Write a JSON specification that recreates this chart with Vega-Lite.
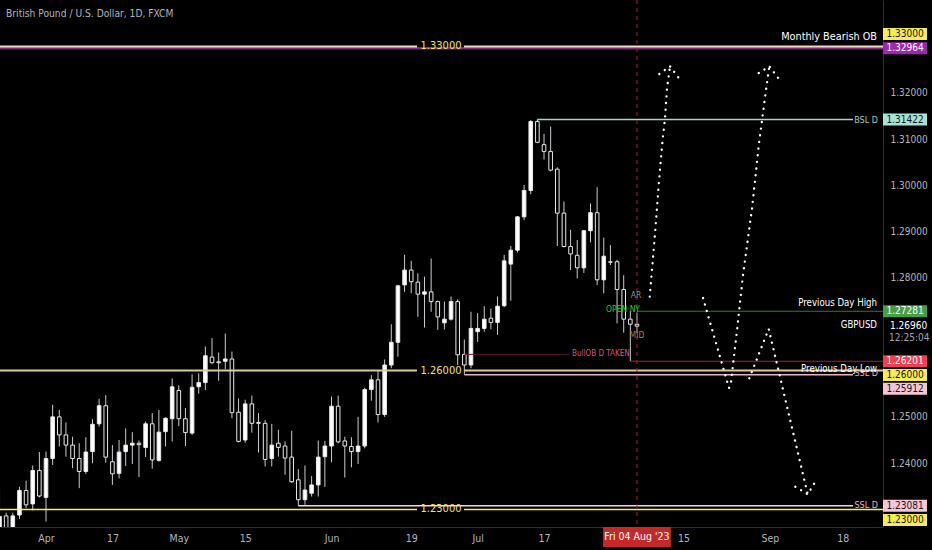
{
  "$schema": "https://vega.github.io/schema/vega-lite/v6.json",
  "width": 883,
  "height": 527,
  "autosize": {"type": "none"},
  "padding": {"left": 0, "top": 0, "right": 49, "bottom": 23},
  "background": "#000000",
  "config": {
    "view": {"stroke": null},
    "font": "'Liberation Sans Narrow', 'DejaVu Sans Condensed', Roboto, sans-serif",
    "axis": {"titleColor": "transparent"}
  },
  "datasets": {
    "candles": [
      {"d":"2023-03-23","t":-7,"o":1.2255,"h":1.2344,"l":1.2245,"c":1.2285},
      {"d":"2023-03-24","t":-6,"o":1.2286,"h":1.2293,"l":1.2240,"c":1.2255},
      {"d":"2023-03-27","t":-5,"o":1.2258,"h":1.2293,"l":1.2250,"c":1.2286},
      {"d":"2023-03-28","t":-4,"o":1.2288,"h":1.2349,"l":1.2279,"c":1.2341},
      {"d":"2023-03-29","t":-3,"o":1.2341,"h":1.2362,"l":1.2303,"c":1.2310},
      {"d":"2023-03-30","t":-2,"o":1.2312,"h":1.2395,"l":1.2298,"c":1.2384},
      {"d":"2023-03-31","t":-1,"o":1.2384,"h":1.2424,"l":1.2326,"c":1.2329},
      {"d":"2023-04-03","t":0,"o":1.2326,"h":1.2425,"l":1.2274,"c":1.2410},
      {"d":"2023-04-04","t":1,"o":1.2410,"h":1.2526,"l":1.2396,"c":1.2500},
      {"d":"2023-04-05","t":2,"o":1.2500,"h":1.2515,"l":1.2436,"c":1.2461},
      {"d":"2023-04-06","t":3,"o":1.2461,"h":1.2488,"l":1.2414,"c":1.2439},
      {"d":"2023-04-07","t":4,"o":1.2439,"h":1.2457,"l":1.2389,"c":1.2410},
      {"d":"2023-04-10","t":5,"o":1.2410,"h":1.2443,"l":1.2346,"c":1.2382},
      {"d":"2023-04-11","t":6,"o":1.2382,"h":1.2456,"l":1.2377,"c":1.2424},
      {"d":"2023-04-12","t":7,"o":1.2425,"h":1.2495,"l":1.2400,"c":1.2484},
      {"d":"2023-04-13","t":8,"o":1.2485,"h":1.2539,"l":1.2479,"c":1.2524},
      {"d":"2023-04-14","t":9,"o":1.2524,"h":1.2547,"l":1.2401,"c":1.2413},
      {"d":"2023-04-17","t":10,"o":1.2403,"h":1.2439,"l":1.2353,"c":1.2377},
      {"d":"2023-04-18","t":11,"o":1.2378,"h":1.2450,"l":1.2367,"c":1.2424},
      {"d":"2023-04-19","t":12,"o":1.2425,"h":1.2475,"l":1.2394,"c":1.2439},
      {"d":"2023-04-20","t":13,"o":1.2439,"h":1.2467,"l":1.2398,"c":1.2443},
      {"d":"2023-04-21","t":14,"o":1.2443,"h":1.2449,"l":1.2370,"c":1.2440},
      {"d":"2023-04-24","t":15,"o":1.2434,"h":1.2490,"l":1.2413,"c":1.2485},
      {"d":"2023-04-25","t":16,"o":1.2485,"h":1.2508,"l":1.2388,"c":1.2407},
      {"d":"2023-04-26","t":17,"o":1.2406,"h":1.2515,"l":1.2403,"c":1.2467},
      {"d":"2023-04-27","t":18,"o":1.2468,"h":1.2499,"l":1.2436,"c":1.2497},
      {"d":"2023-04-28","t":19,"o":1.2496,"h":1.2583,"l":1.2447,"c":1.2565},
      {"d":"2023-05-01","t":20,"o":1.2557,"h":1.2568,"l":1.2480,"c":1.2496},
      {"d":"2023-05-02","t":21,"o":1.2496,"h":1.2519,"l":1.2437,"c":1.2466},
      {"d":"2023-05-03","t":22,"o":1.2465,"h":1.2592,"l":1.2461,"c":1.2564},
      {"d":"2023-05-04","t":23,"o":1.2565,"h":1.2594,"l":1.2550,"c":1.2574},
      {"d":"2023-05-05","t":24,"o":1.2574,"h":1.2652,"l":1.2558,"c":1.2632},
      {"d":"2023-05-08","t":25,"o":1.2629,"h":1.2670,"l":1.2614,"c":1.2617},
      {"d":"2023-05-09","t":26,"o":1.2619,"h":1.2639,"l":1.2578,"c":1.2617},
      {"d":"2023-05-10","t":27,"o":1.2620,"h":1.2680,"l":1.2603,"c":1.2625},
      {"d":"2023-05-11","t":28,"o":1.2625,"h":1.2641,"l":1.2497,"c":1.2509},
      {"d":"2023-05-12","t":29,"o":1.2510,"h":1.2540,"l":1.2445,"c":1.2447},
      {"d":"2023-05-15","t":30,"o":1.2450,"h":1.2537,"l":1.2444,"c":1.2528},
      {"d":"2023-05-16","t":31,"o":1.2528,"h":1.2546,"l":1.2466,"c":1.2486},
      {"d":"2023-05-17","t":32,"o":1.2488,"h":1.2508,"l":1.2423,"c":1.2486},
      {"d":"2023-05-18","t":33,"o":1.2486,"h":1.2493,"l":1.2393,"c":1.2408},
      {"d":"2023-05-19","t":34,"o":1.2410,"h":1.2485,"l":1.2393,"c":1.2439},
      {"d":"2023-05-22","t":35,"o":1.2443,"h":1.2472,"l":1.2414,"c":1.2434},
      {"d":"2023-05-23","t":36,"o":1.2437,"h":1.2447,"l":1.2375,"c":1.2411},
      {"d":"2023-05-24","t":37,"o":1.2413,"h":1.2470,"l":1.2357,"c":1.2360},
      {"d":"2023-05-25","t":38,"o":1.2364,"h":1.2387,"l":1.23081,"c":1.2321},
      {"d":"2023-05-26","t":39,"o":1.2321,"h":1.2395,"l":1.2310,"c":1.2342},
      {"d":"2023-05-29","t":40,"o":1.2335,"h":1.2372,"l":1.2328,"c":1.2353},
      {"d":"2023-05-30","t":41,"o":1.2353,"h":1.2449,"l":1.2328,"c":1.2413},
      {"d":"2023-05-31","t":42,"o":1.2414,"h":1.2448,"l":1.2349,"c":1.2437},
      {"d":"2023-06-01","t":43,"o":1.2437,"h":1.2544,"l":1.2402,"c":1.2523},
      {"d":"2023-06-02","t":44,"o":1.2523,"h":1.2546,"l":1.2443,"c":1.2446},
      {"d":"2023-06-05","t":45,"o":1.2448,"h":1.2457,"l":1.2369,"c":1.2437},
      {"d":"2023-06-06","t":46,"o":1.2436,"h":1.2456,"l":1.2391,"c":1.2425},
      {"d":"2023-06-07","t":47,"o":1.2425,"h":1.2500,"l":1.2398,"c":1.2437},
      {"d":"2023-06-08","t":48,"o":1.2437,"h":1.2563,"l":1.2432,"c":1.2559},
      {"d":"2023-06-09","t":49,"o":1.2559,"h":1.2590,"l":1.2535,"c":1.2580},
      {"d":"2023-06-12","t":50,"o":1.2580,"h":1.2601,"l":1.2488,"c":1.2505},
      {"d":"2023-06-13","t":51,"o":1.2505,"h":1.2624,"l":1.2500,"c":1.2612},
      {"d":"2023-06-14","t":52,"o":1.2612,"h":1.2700,"l":1.2605,"c":1.2661},
      {"d":"2023-06-15","t":53,"o":1.2661,"h":1.2785,"l":1.2630,"c":1.2783},
      {"d":"2023-06-16","t":54,"o":1.2785,"h":1.2850,"l":1.2770,"c":1.2817},
      {"d":"2023-06-19","t":55,"o":1.2817,"h":1.2837,"l":1.2767,"c":1.2792},
      {"d":"2023-06-20","t":56,"o":1.2791,"h":1.2810,"l":1.2716,"c":1.2765},
      {"d":"2023-06-21","t":57,"o":1.2765,"h":1.2803,"l":1.2693,"c":1.2770},
      {"d":"2023-06-22","t":58,"o":1.2770,"h":1.2842,"l":1.2727,"c":1.2749},
      {"d":"2023-06-23","t":59,"o":1.2749,"h":1.2751,"l":1.2688,"c":1.2716},
      {"d":"2023-06-26","t":60,"o":1.2703,"h":1.2749,"l":1.2689,"c":1.2711},
      {"d":"2023-06-27","t":61,"o":1.2711,"h":1.2760,"l":1.2708,"c":1.2749},
      {"d":"2023-06-28","t":62,"o":1.2749,"h":1.2754,"l":1.2612,"c":1.2634},
      {"d":"2023-06-29","t":63,"o":1.2635,"h":1.2667,"l":1.25912,"c":1.2612},
      {"d":"2023-06-30","t":64,"o":1.2612,"h":1.2727,"l":1.2605,"c":1.2691},
      {"d":"2023-07-03","t":65,"o":1.2684,"h":1.2724,"l":1.2662,"c":1.2691},
      {"d":"2023-07-04","t":66,"o":1.2691,"h":1.2739,"l":1.2684,"c":1.2711},
      {"d":"2023-07-05","t":67,"o":1.2713,"h":1.2734,"l":1.2689,"c":1.2704},
      {"d":"2023-07-06","t":68,"o":1.2704,"h":1.2760,"l":1.2677,"c":1.2739},
      {"d":"2023-07-07","t":69,"o":1.2740,"h":1.2850,"l":1.2737,"c":1.2837},
      {"d":"2023-07-10","t":70,"o":1.2830,"h":1.2869,"l":1.2751,"c":1.2860},
      {"d":"2023-07-11","t":71,"o":1.2860,"h":1.2934,"l":1.2855,"c":1.2932},
      {"d":"2023-07-12","t":72,"o":1.2932,"h":1.3001,"l":1.2925,"c":1.2989},
      {"d":"2023-07-13","t":73,"o":1.2989,"h":1.3141,"l":1.2981,"c":1.3138},
      {"d":"2023-07-14","t":74,"o":1.3138,"h":1.31422,"l":1.3091,"c":1.3093},
      {"d":"2023-07-17","t":75,"o":1.3088,"h":1.3111,"l":1.3056,"c":1.3073},
      {"d":"2023-07-18","t":76,"o":1.3073,"h":1.3127,"l":1.3030,"c":1.3033},
      {"d":"2023-07-19","t":77,"o":1.3035,"h":1.3039,"l":1.2869,"c":1.2940},
      {"d":"2023-07-20","t":78,"o":1.2940,"h":1.2965,"l":1.2866,"c":1.2868},
      {"d":"2023-07-21","t":79,"o":1.2868,"h":1.2904,"l":1.2817,"c":1.2852},
      {"d":"2023-07-24","t":80,"o":1.2849,"h":1.2882,"l":1.2799,"c":1.2822},
      {"d":"2023-07-25","t":81,"o":1.2822,"h":1.2904,"l":1.2811,"c":1.2902},
      {"d":"2023-07-26","t":82,"o":1.2902,"h":1.2961,"l":1.2877,"c":1.2941},
      {"d":"2023-07-27","t":83,"o":1.2941,"h":1.2996,"l":1.2785,"c":1.2796},
      {"d":"2023-07-28","t":84,"o":1.2796,"h":1.2887,"l":1.2767,"c":1.2847},
      {"d":"2023-07-31","t":85,"o":1.2835,"h":1.2871,"l":1.2828,"c":1.2834},
      {"d":"2023-08-01","t":86,"o":1.2835,"h":1.2839,"l":1.2702,"c":1.2775},
      {"d":"2023-08-02","t":87,"o":1.2775,"h":1.2806,"l":1.2682,"c":1.2711},
      {"d":"2023-08-03","t":88,"o":1.2711,"h":1.27281,"l":1.26201,"c":1.2700},
      {"d":"2023-08-04","t":89,"o":1.2700,"h":1.2725,"l":1.2681,"c":1.2696}
    ],
    "levels": [
      {"kind":"mobp","p":1.32964,"t0":-7,"t1":126.05},
      {"kind":"mobc","p":1.33,"t0":-7,"t1":55.87},
      {"kind":"mobc","p":1.33,"t0":62.95,"t1":126.05},
      {"kind":"bsl","p":1.31422,"t0":74,"t1":121.54},
      {"kind":"pdh","p":1.27281,"t0":89,"t1":126.05},
      {"kind":"bullob","p":1.2635,"t0":63,"t1":78.8},
      {"kind":"pdl","p":1.26201,"t0":88,"t1":126.05},
      {"kind":"ssl1","p":1.25912,"t0":63,"t1":121.54},
      {"kind":"r126","p":1.26,"t0":-7,"t1":55.87},
      {"kind":"r126","p":1.26,"t0":62.95,"t1":126.05},
      {"kind":"ssl2","p":1.23081,"t0":38,"t1":121.54},
      {"kind":"r123","p":1.23,"t0":-7,"t1":55.87},
      {"kind":"r123","p":1.23,"t0":62.95,"t1":126.05}
    ],
    "proj": [
      {"path":"p1","k":0,"t":90.92,"p":1.27596},
      {"path":"p1","k":1,"t":91.76,"p":1.29036},
      {"path":"p1","k":2,"t":92.27,"p":1.30008},
      {"path":"p1","k":3,"t":92.88,"p":1.31017},
      {"path":"p1","k":4,"t":93.22,"p":1.31449},
      {"path":"p1","k":5,"t":93.52,"p":1.32097},
      {"path":"p1","k":6,"t":93.98,"p":1.32572},
      {"path":"p1h","k":0,"t":92.36,"p":1.32406},
      {"path":"p1h","k":1,"t":93.98,"p":1.32572},
      {"path":"p1h","k":2,"t":95.38,"p":1.32304},
      {"path":"p2","k":0,"t":98.95,"p":1.27567},
      {"path":"p2","k":1,"t":102.86,"p":1.25623},
      {"path":"p2","k":2,"t":103.16,"p":1.25753},
      {"path":"p2","k":3,"t":104.07,"p":1.26876},
      {"path":"p2","k":4,"t":104.97,"p":1.28064},
      {"path":"p2","k":5,"t":106.33,"p":1.29511},
      {"path":"p2","k":6,"t":107.38,"p":1.30915},
      {"path":"p2","k":7,"t":108.43,"p":1.3206},
      {"path":"p2","k":8,"t":108.93,"p":1.32572},
      {"path":"p2h","k":0,"t":107.33,"p":1.32427},
      {"path":"p2h","k":1,"t":108.93,"p":1.32572},
      {"path":"p2h","k":2,"t":110.35,"p":1.32304},
      {"path":"p3","k":0,"t":105.92,"p":1.25833},
      {"path":"p3","k":1,"t":108.84,"p":1.26898},
      {"path":"p3","k":2,"t":114.71,"p":1.23327},
      {"path":"p3h","k":0,"t":112.85,"p":1.23492},
      {"path":"p3h","k":1,"t":114.71,"p":1.23327},
      {"path":"p3h","k":2,"t":115.71,"p":1.23565}
    ],
    "tagsA": [
      {"kind":"mob","p":1.32964,"label":"1.32964"},
      {"kind":"bsl","p":1.31422,"label":"1.31422"},
      {"kind":"pdh","p":1.27281,"label":"1.27281"},
      {"kind":"pdl","p":1.26201,"label":"1.26201"},
      {"kind":"ssl2","p":1.23081,"label":"1.23081"}
    ]
  },
  "layer": [
    {
      "data": {"name": "candles"},
      "mark": {"type": "rule", "color": "#c9ccd3", "strokeWidth": 1, "clip": true},
      "encoding": {
        "x": {
          "field": "t", "type": "quantitative", "title": null,
          "scale": {"domain": [-6.928, 126.05], "nice": false, "zero": false, "padding": 0},
          "axis": {
            "orient": "bottom", "title": null,
            "values": [0, 10, 20, 30, 43, 55, 65, 75, 96, 109, 120],
            "labelExpr": "datum.value == 0 ? 'Apr' : datum.value == 10 ? '17' : datum.value == 20 ? 'May' : datum.value == 30 ? '15' : datum.value == 43 ? 'Jun' : datum.value == 55 ? '19' : datum.value == 65 ? 'Jul' : datum.value == 75 ? '17' : datum.value == 96 ? '15' : datum.value == 109 ? 'Sep' : datum.value == 120 ? '18' : ''",
            "grid": false, "ticks": false, "domainColor": "#2a2e39",
            "labelColor": "#b2b5be", "labelFontSize": 10.5, "labelPadding": 6,
            "labelFlush": false, "labelOverlap": false
          }
        },
        "y": {
          "field": "l", "type": "quantitative", "title": null,
          "scale": {"domain": [1.22621, 1.34004], "nice": false, "zero": false, "padding": 0},
          "axis": {
            "orient": "right", "title": null,
            "values": [1.24, 1.25, 1.28, 1.29, 1.30, 1.31, 1.32],
            "format": ".5f", "grid": false, "ticks": false, "domainColor": "#2a2e39",
            "labelColor": "#b2b5be", "labelFontSize": 10, "labelPadding": 7
          }
        },
        "y2": {"field": "h"}
      }
    },
    {
      "data": {"name": "candles"},
      "mark": {"type": "bar", "width": 3.6, "stroke": "#e8e8e8", "strokeWidth": 1, "clip": true},
      "encoding": {
        "x": {"field": "t", "type": "quantitative"},
        "y": {"field": "o", "type": "quantitative"},
        "y2": {"field": "c"},
        "fill": {"condition": {"test": "datum.c >= datum.o", "value": "#ffffff"}, "value": "#000000"}
      }
    },
    {
      "data": {"name": "levels"},
      "mark": {"type": "rule"},
      "encoding": {
        "x": {"field": "t0", "type": "quantitative"},
        "x2": {"field": "t1"},
        "y": {"field": "p", "type": "quantitative"},
        "color": {
          "field": "kind", "type": "nominal", "legend": null,
          "scale": {
            "domain": ["mobp", "mobc", "bsl", "pdh", "bullob", "pdl", "ssl1", "r126", "ssl2", "r123"],
            "range": ["#7b2d80", "#f0dcbc", "#a6d8c8", "#2f7d32", "#5e1b2d", "#b71c2c", "#eab3c5", "#d7cb98", "#f5d5e0", "#f5f53c"]
          }
        },
        "strokeWidth": {
          "condition": [
            {"test": "datum.kind == 'mobp'", "value": 2.5},
            {"test": "datum.kind == 'mobc' || datum.kind == 'r126'", "value": 2},
            {"test": "datum.kind == 'r123' || datum.kind == 'ssl1' || datum.kind == 'ssl2' || datum.kind == 'bsl'", "value": 1.5}
          ],
          "value": 1
        }
      }
    },
    {
      "data": {"values": [{}]},
      "mark": {"type": "rule", "color": "#a3222d", "strokeDash": [4, 4], "strokeWidth": 1},
      "encoding": {"x": {"datum": 89, "type": "quantitative"}}
    },
    {
      "data": {"name": "proj"},
      "mark": {"type": "line", "color": "#ffffff", "strokeWidth": 2.3, "strokeDash": [0.1, 6.6], "strokeCap": "round"},
      "encoding": {
        "x": {"field": "t", "type": "quantitative"},
        "y": {"field": "p", "type": "quantitative"},
        "detail": {"field": "path", "type": "nominal"},
        "order": {"field": "k", "type": "quantitative"}
      }
    },
    {
      "data": {"name": "tagsA"},
      "layer": [
        {
          "mark": {"type": "bar", "height": 12},
          "encoding": {
            "x": {"datum": 126.05, "type": "quantitative"},
            "x2": {"datum": 132.68},
            "y": {"field": "p", "type": "quantitative"},
            "fill": {
              "field": "kind", "type": "nominal", "legend": null,
              "scale": {"domain": ["mob", "bsl", "pdh", "pdl", "ssl2"], "range": ["#9c27b0", "#a6e3d0", "#43a047", "#f03e52", "#f7c6d6"]}
            }
          }
        },
        {
          "mark": {"type": "text", "align": "center", "baseline": "middle", "fontSize": 10},
          "encoding": {
            "x": {"datum": 129.37, "type": "quantitative"},
            "y": {"field": "p", "type": "quantitative"},
            "text": {"field": "label"},
            "color": {"condition": {"test": "datum.kind == 'mob' || datum.kind == 'pdh' || datum.kind == 'pdl'", "value": "#ffffff"}, "value": "#131722"}
          }
        }
      ]
    },
    {
      "data": {"values": [{"p": 1.33, "label": "1.33000"}]},
      "layer": [
        {"mark": {"type": "bar", "height": 12, "yOffset": -12.5, "fill": "#f7ea55"},
         "encoding": {"x": {"datum": 126.05, "type": "quantitative"}, "x2": {"datum": 132.68}, "y": {"field": "p", "type": "quantitative"}}},
        {"mark": {"type": "text", "yOffset": -12.5, "align": "center", "baseline": "middle", "fontSize": 10, "color": "#131722"},
         "encoding": {"x": {"datum": 129.37, "type": "quantitative"}, "y": {"field": "p", "type": "quantitative"}, "text": {"field": "label"}}}
      ]
    },
    {
      "data": {"values": [{"p": 1.26, "label": "1.26000"}]},
      "layer": [
        {"mark": {"type": "bar", "height": 12, "yOffset": 4.5, "fill": "#f7ea55"},
         "encoding": {"x": {"datum": 126.05, "type": "quantitative"}, "x2": {"datum": 132.68}, "y": {"field": "p", "type": "quantitative"}}},
        {"mark": {"type": "text", "yOffset": 4.5, "align": "center", "baseline": "middle", "fontSize": 10, "color": "#131722"},
         "encoding": {"x": {"datum": 129.37, "type": "quantitative"}, "y": {"field": "p", "type": "quantitative"}, "text": {"field": "label"}}}
      ]
    },
    {
      "data": {"values": [{"p": 1.25912, "label": "1.25912"}]},
      "layer": [
        {"mark": {"type": "bar", "height": 12, "yOffset": 14, "fill": "#f7c6d6"},
         "encoding": {"x": {"datum": 126.05, "type": "quantitative"}, "x2": {"datum": 132.68}, "y": {"field": "p", "type": "quantitative"}}},
        {"mark": {"type": "text", "yOffset": 14, "align": "center", "baseline": "middle", "fontSize": 10, "color": "#131722"},
         "encoding": {"x": {"datum": 129.37, "type": "quantitative"}, "y": {"field": "p", "type": "quantitative"}, "text": {"field": "label"}}}
      ]
    },
    {
      "data": {"values": [{"p": 1.23, "label": "1.23000"}]},
      "layer": [
        {"mark": {"type": "bar", "height": 12, "yOffset": 10.5, "fill": "#f7ea55"},
         "encoding": {"x": {"datum": 126.05, "type": "quantitative"}, "x2": {"datum": 132.68}, "y": {"field": "p", "type": "quantitative"}}},
        {"mark": {"type": "text", "yOffset": 10.5, "align": "center", "baseline": "middle", "fontSize": 10, "color": "#131722"},
         "encoding": {"x": {"datum": 129.37, "type": "quantitative"}, "y": {"field": "p", "type": "quantitative"}, "text": {"field": "label"}}}
      ]
    },
    {
      "data": {"values": [{"txt": "Fri 04 Aug '23", "t": 89, "p": 1.22405}]},
      "layer": [
        {"mark": {"type": "bar", "height": 20, "fill": "#c62828"},
         "encoding": {"x": {"datum": 83.9, "type": "quantitative"}, "x2": {"datum": 94.1}, "y": {"field": "p", "type": "quantitative"}}},
        {"mark": {"type": "text", "align": "center", "baseline": "middle", "fontSize": 10.5, "color": "#ffffff"},
         "encoding": {"x": {"field": "t", "type": "quantitative"}, "y": {"field": "p", "type": "quantitative"}, "text": {"field": "txt"}}}
      ]
    },
    {
      "data": {"values": [{"txt": "British Pound / U.S. Dollar, 1D, FXCM", "t": -6.02, "p": 1.33702}]},
      "mark": {"type": "text", "align": "left", "baseline": "middle", "fontSize": 10.2, "color": "#b2b5be"},
      "encoding": {"x": {"field": "t", "type": "quantitative"}, "y": {"field": "p", "type": "quantitative"}, "text": {"field": "txt"}}
    },
    {
      "data": {"values": [
        {"txt": "1.33000", "t": 59.49, "p": 1.33},
        {"txt": "1.26000", "t": 59.49, "p": 1.26},
        {"txt": "1.23000", "t": 59.49, "p": 1.23}
      ]},
      "mark": {"type": "text", "align": "center", "baseline": "middle", "fontSize": 11, "color": "#f5e35c"},
      "encoding": {"x": {"field": "t", "type": "quantitative"}, "y": {"field": "p", "type": "quantitative"}, "text": {"field": "txt"}}
    },
    {
      "data": {"values": [{"txt": "Monthly Bearish OB", "t": 125.15, "p": 1.33205}]},
      "mark": {"type": "text", "align": "right", "baseline": "middle", "fontSize": 10.8, "color": "#ffffff"},
      "encoding": {"x": {"field": "t", "type": "quantitative"}, "y": {"field": "p", "type": "quantitative"}, "text": {"field": "txt"}}
    },
    {
      "data": {"values": [
        {"txt": "Previous Day High", "t": 125.15, "p": 1.27459},
        {"txt": "GBPUSD", "t": 125.15, "p": 1.26984},
        {"txt": "Previous Day Low", "t": 125.15, "p": 1.26034}
      ]},
      "mark": {"type": "text", "align": "right", "baseline": "middle", "fontSize": 9.6, "color": "#ffffff"},
      "encoding": {"x": {"field": "t", "type": "quantitative"}, "y": {"field": "p", "type": "quantitative"}, "text": {"field": "txt"}}
    },
    {
      "data": {"values": [
        {"txt": "BSL D", "t": 125.3, "p": 1.31422},
        {"txt": "SSL D", "t": 125.3, "p": 1.25947},
        {"txt": "SSL D", "t": 125.3, "p": 1.23097}
      ]},
      "mark": {"type": "text", "align": "right", "baseline": "middle", "fontSize": 9},
      "encoding": {
        "x": {"field": "t", "type": "quantitative"}, "y": {"field": "p", "type": "quantitative"}, "text": {"field": "txt"},
        "color": {"condition": {"test": "datum.txt == 'BSL D'", "value": "#a8c9c0"}, "value": "#e8b4c4"}
      }
    },
    {
      "data": {"values": [{"txt": "BullOB D TAKEN", "t": 79.22, "p": 1.2635}]},
      "mark": {"type": "text", "align": "left", "baseline": "middle", "fontSize": 8, "color": "#d9537a"},
      "encoding": {"x": {"field": "t", "type": "quantitative"}, "y": {"field": "p", "type": "quantitative"}, "text": {"field": "txt"}}
    },
    {
      "data": {"values": [
        {"txt": "AR", "t": 88.86, "p": 1.27632},
        {"txt": "OPEN NY", "t": 86.9, "p": 1.2733},
        {"txt": "MID", "t": 89, "p": 1.26768}
      ]},
      "mark": {"type": "text", "align": "center", "baseline": "middle", "fontSize": 8.5},
      "encoding": {
        "x": {"field": "t", "type": "quantitative"}, "y": {"field": "p", "type": "quantitative"}, "text": {"field": "txt"},
        "color": {"condition": [
          {"test": "datum.txt == 'OPEN NY'", "value": "#22d022"},
          {"test": "datum.txt == 'AR'", "value": "#8d9099"}
        ], "value": "#b07c4e"}
      }
    },
    {
      "data": {"values": [
        {"txt": "1.26960", "t": 127.11, "p": 1.26962},
        {"txt": "12:25:04", "t": 126.96, "p": 1.26703}
      ]},
      "mark": {"type": "text", "align": "left", "baseline": "middle", "fontSize": 10},
      "encoding": {
        "x": {"field": "t", "type": "quantitative"}, "y": {"field": "p", "type": "quantitative"}, "text": {"field": "txt"},
        "color": {"condition": {"test": "datum.txt == '1.26960'", "value": "#ffffff"}, "value": "#a0a4ad"}
      }
    }
  ]
}
